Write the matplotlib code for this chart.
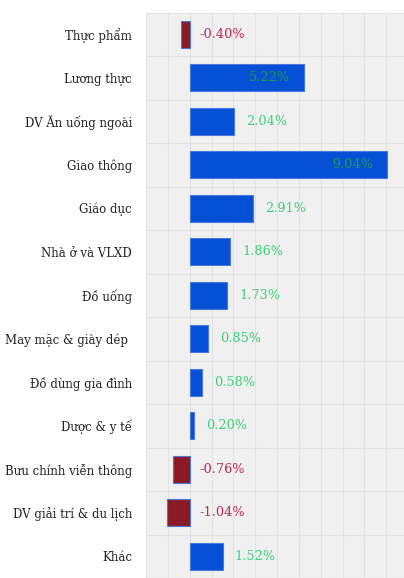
import matplotlib.pyplot as plt
from matplotlib.ticker import MultipleLocator

# dữ liệu
categories = ['Thực phẩm', 'Lương thực', 'DV Ăn uống ngoài', 'Giao thông', 'Giáo dục',
              'Nhà ở và VLXD', 'Đồ uống', 'May mặc & giày dép ', 'Đồ dùng gia đình',
              'Dược & y tế', 'Bưu chính viễn thông', 'DV giải trí & du lịch', 'Khác']
values = [-0.40, 5.22, 2.04, 9.04, 2.91, 1.86, 1.73, 0.85, 0.58, 0.20, -0.76, -1.04, 1.52]

blue = '#0650d6'
red = '#8c1a24'
green = '#3ccf7a'
green_in = '#1a9a55'
neg_txt = '#c0264e'

plt.rcParams['font.family'] = ['DejaVu Serif']

fig = plt.figure(figsize=(4.04, 5.78), dpi=100)
ax = fig.add_axes([146 / 404, 0, 1 - 146 / 404, 1 - 12.5 / 578])
ax.set_facecolor('#f0f0f0')

y = list(range(len(categories)))
colors = [blue if v >= 0 else red for v in values]
ax.barh(y, values, height=0.62, color=colors, edgecolor='#4a78dc', linewidth=0.8, zorder=3)

# nhãn giá trị
for i, v in enumerate(values):
    label = f'{v:.2f}%'
    if v < 0:
        ax.annotate(label, (0, i), xytext=(7, 0), textcoords='offset points',
                    ha='left', va='center', color=neg_txt, fontsize=9.3, zorder=4)
    elif v > 5:
        ax.annotate(label, (v, i), xytext=(-10, 0), textcoords='offset points',
                    ha='right', va='center', color=green_in, fontsize=9.3, zorder=4)
    else:
        ax.annotate(label, (v, i), xytext=(8.5, 0), textcoords='offset points',
                    ha='left', va='center', color=green, fontsize=9.3, zorder=4)

ax.set_xlim(-2, (404 - 190) / 21.8)
ax.set_ylim(12 + (578 - 562.5) / 44, -0.5)

ax.xaxis.set_major_locator(MultipleLocator(1))
ax.set_yticks([i + 0.5 for i in y], minor=True)
ax.set_yticks(y)
ax.set_yticklabels(categories, fontsize=8.5, color='#222222')
ax.tick_params(axis='y', which='both', length=0, pad=10)
ax.tick_params(axis='x', length=0, labelbottom=False)
ax.grid(axis='x', which='major', color='#e2e2e2', linewidth=0.8, zorder=0)
ax.grid(axis='y', which='minor', color='#e2e2e2', linewidth=0.8, zorder=0)
ax.grid(axis='y', which='major', visible=False)
ax.axhline(-0.5, color='#e2e2e2', linewidth=0.8, zorder=0)
for s in ax.spines.values():
    s.set_visible(False)

fig.savefig('out.png', dpi=100)
